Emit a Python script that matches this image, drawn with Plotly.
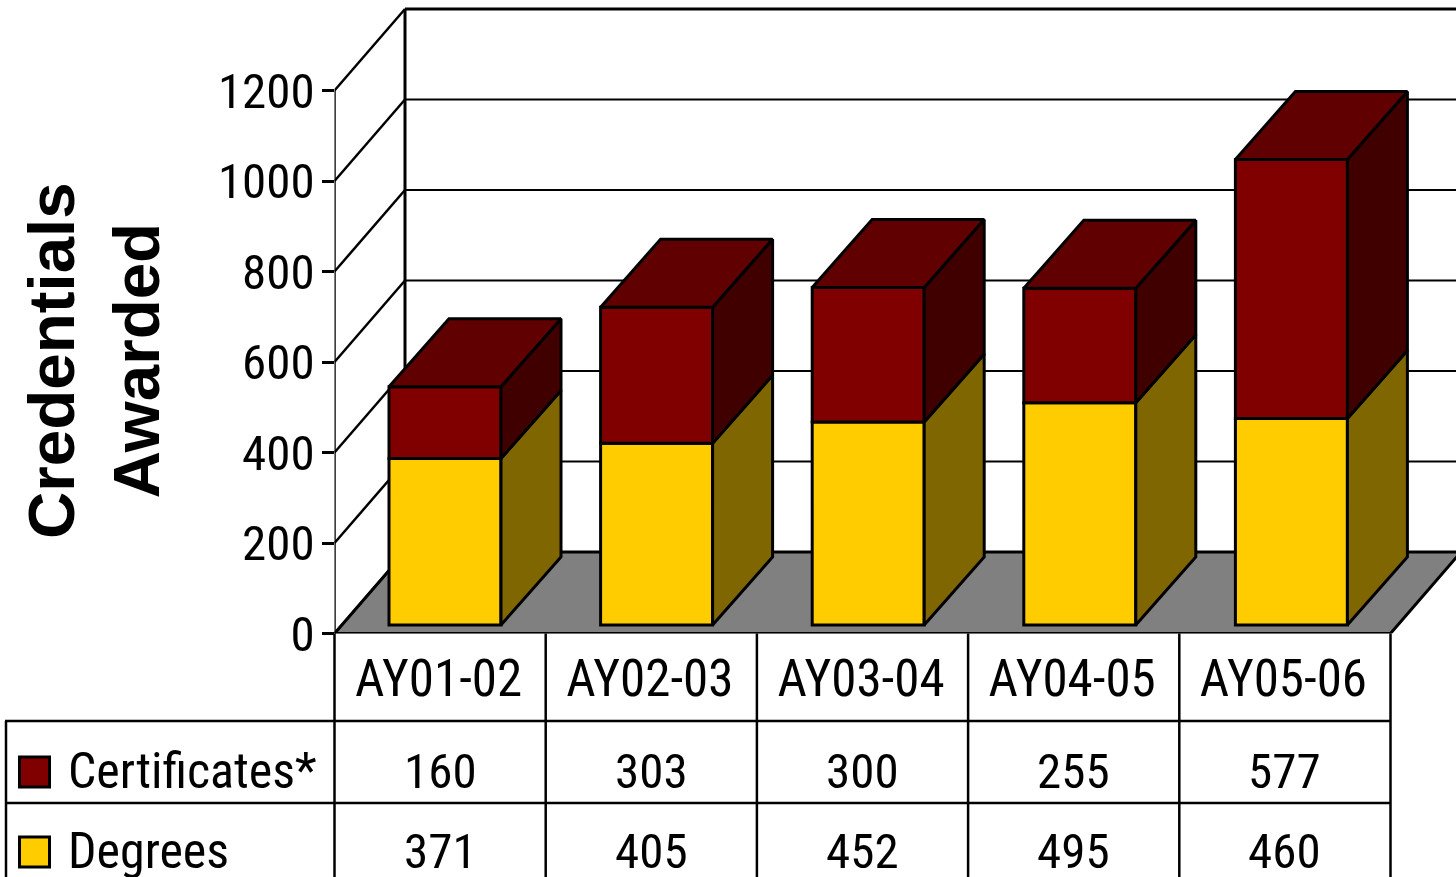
import plotly.graph_objects as go

categories = ["AY01-02", "AY02-03", "AY03-04", "AY04-05", "AY05-06"]
degrees = [371, 405, 452, 495, 460]
certificates = [160, 303, 300, 255, 577]
y_ticks = [0, 200, 400, 600, 800, 1000, 1200]

W, H = 1456, 877
AX_L, AX_B = 334.5, 633.5  # pixel of axis origin
CAT_W = 211.2              # pixels per category
PX_PER_UNIT = 0.4525       # pixels per value unit
DEPTH_X, DEPTH_Y = 70.5, 81.5  # wall depth in pixels
BAR_W = 112 / CAT_W
BAR_STEP = 211.6 / CAT_W
BAR_OFF_X = 54.5 / CAT_W   # bar front-left offset from the axis
BAR_DX, BAR_DY = 60, 68
BAR_BASE_PX = 8.5
BAR_SCALE = 0.992
FONT = "Roboto Condensed, Liberation Sans, sans-serif"
FS = 49

x_max = (W - AX_L) / CAT_W
y_max = AX_B / PX_PER_UNIT
dx = lambda px: px / CAT_W
dy = lambda px: px / PX_PER_UNIT
base = dy(BAR_BASE_PX)
xs = [i + 0.5 for i in range(len(categories))]
lefts = [i * BAR_STEP + BAR_OFF_X for i in range(len(categories))]
offsets = [l - x for l, x in zip(lefts, xs)]

fig = go.Figure()
LINE = dict(color="black", width=3)
MID = dict(color="black", width=2.5)
THIN = dict(color="black", width=2)

def seg(x0, y0, x1, y1, line=THIN):
    return dict(type="line", xref="x", yref="y", x0=x0, y0=y0, x1=x1, y1=y1, line=line, layer="below")

shapes = []
shapes.append(dict(type="path", xref="x", yref="y", layer="below",
    path=f"M 0 0 L {dx(DEPTH_X)} {dy(DEPTH_Y)} L {len(categories)+dx(DEPTH_X)} {dy(DEPTH_Y)} L {len(categories)} 0 Z",
    fillcolor="#808080", line=LINE))
for t in y_ticks:
    if t:
        shapes.append(seg(dx(DEPTH_X), t + dy(DEPTH_Y), x_max, t + dy(DEPTH_Y), LINE if t == y_ticks[-1] else THIN))
    shapes.append(seg(0, t, dx(DEPTH_X), t + dy(DEPTH_Y), MID))
shapes.append(seg(0, 0, 0, y_ticks[-1], MID))
shapes.append(seg(dx(DEPTH_X), dy(DEPTH_Y), dx(DEPTH_X), y_ticks[-1] + dy(DEPTH_Y), LINE))

def add_bar(y, b, color):
    fig.add_trace(go.Bar(x=xs, y=y, base=b, width=BAR_W, marker=dict(color=color, line=LINE),
                         offset=offsets, hoverinfo="skip", showlegend=False))

def poly(xv, yv, color):
    fig.add_trace(go.Scatter(x=xv, y=yv, mode="lines", fill="toself", fillcolor=color, line=LINE,
                             hoverinfo="skip", showlegend=False))

deg_h = [v * BAR_SCALE for v in degrees]
cert_h = [v * BAR_SCALE for v in certificates]
add_bar(deg_h, [base] * len(xs), "#FFCC00")
add_bar(cert_h, [base + d for d in deg_h], "#800000")

for l, d, c in zip(lefts, deg_h, cert_h):
    r = l + BAR_W
    ox, oy = dx(BAR_DX), dy(BAR_DY)
    y0, y1, y2 = base, base + d, base + d + c
    poly([r, r + ox, r + ox, r, r], [y0, y0 + oy, y1 + oy, y1, y0], "#806600")
    poly([r, r + ox, r + ox, r, r], [y1, y1 + oy, y2 + oy, y2, y1], "#400000")
    poly([l, l + ox, r + ox, r, l], [y2, y2 + oy, y2 + oy, y2, y2], "#600000")

rows = [("Certificates*", certificates, "#800000", 771),
        ("Degrees", degrees, "#FFCC00", 851)]

def table_line(x0, y0, x1, y1):
    shapes.append(dict(type="line", xref="paper", yref="paper", x0=x0 / W, x1=x1 / W,
                       y0=1 - y0 / H, y1=1 - y1 / H, line=MID))

table_line(5, 721, AX_L + 5 * CAT_W, 721)
table_line(5, 803, AX_L + 5 * CAT_W, 803)
table_line(6, 721, 6, H)
for i in range(6):
    table_line(AX_L + i * CAT_W, AX_B, AX_L + i * CAT_W, H)

ann = []
for name, vals, color, cy in rows:
    shapes.append(dict(type="rect", xref="paper", yref="paper", x0=19.5 / W, x1=49.5 / W,
                       y0=1 - (cy - 14) / H, y1=1 - (cy + 16) / H, fillcolor=color, line=LINE))
    ann.append(dict(xref="paper", yref="paper", x=66 / W, y=1 - cy / H, text=name, showarrow=False,
                    xanchor="left", yanchor="middle", font=dict(family=FONT, size=50, color="black")))
    for x, v in zip(xs, vals):
        ann.append(dict(xref="x", yref="paper", x=x, y=1 - cy / H, text=str(v), showarrow=False,
                        xanchor="center", yanchor="middle", font=dict(family=FONT, size=FS, color="black")))
ann.append(dict(xref="paper", yref="paper", x=94 / W, y=1 - 361 / H, text="<b>Credentials<br>Awarded</b>",
                showarrow=False, textangle=-90, xanchor="center", yanchor="middle", align="center",
                font=dict(family="Liberation Sans, Arial, sans-serif", size=65.5, color="black")))

fig.update_layout(
    width=W, height=H, autosize=False, margin=dict(l=0, r=0, t=0, b=0),
    paper_bgcolor="white", plot_bgcolor="rgba(0,0,0,0)", barmode="overlay",
    shapes=shapes, annotations=ann, showlegend=False,
    xaxis=dict(domain=[AX_L / W, 1], range=[0, x_max], tickmode="array",
               tickvals=[x - dx(1.5) for x in xs], ticktext=categories,
               automargin=False, showgrid=False, zeroline=False, showline=False, ticks="", ticklabelstandoff=10,
               tickfont=dict(family=FONT, size=51, color="black")),
    yaxis=dict(domain=[(H - AX_B) / H, 1], range=[0, y_max], tickmode="array", tickvals=y_ticks,
               automargin=False, showgrid=False, zeroline=False, showline=False, ticks="outside", ticklen=12, tickwidth=2.5,
               ticklabelstandoff=-3, tickcolor="black", tickfont=dict(family=FONT, size=FS, color="black")),
)
fig.write_html("out.html", post_script="document.body.style.margin='0';", config={"displayModeBar": False})
